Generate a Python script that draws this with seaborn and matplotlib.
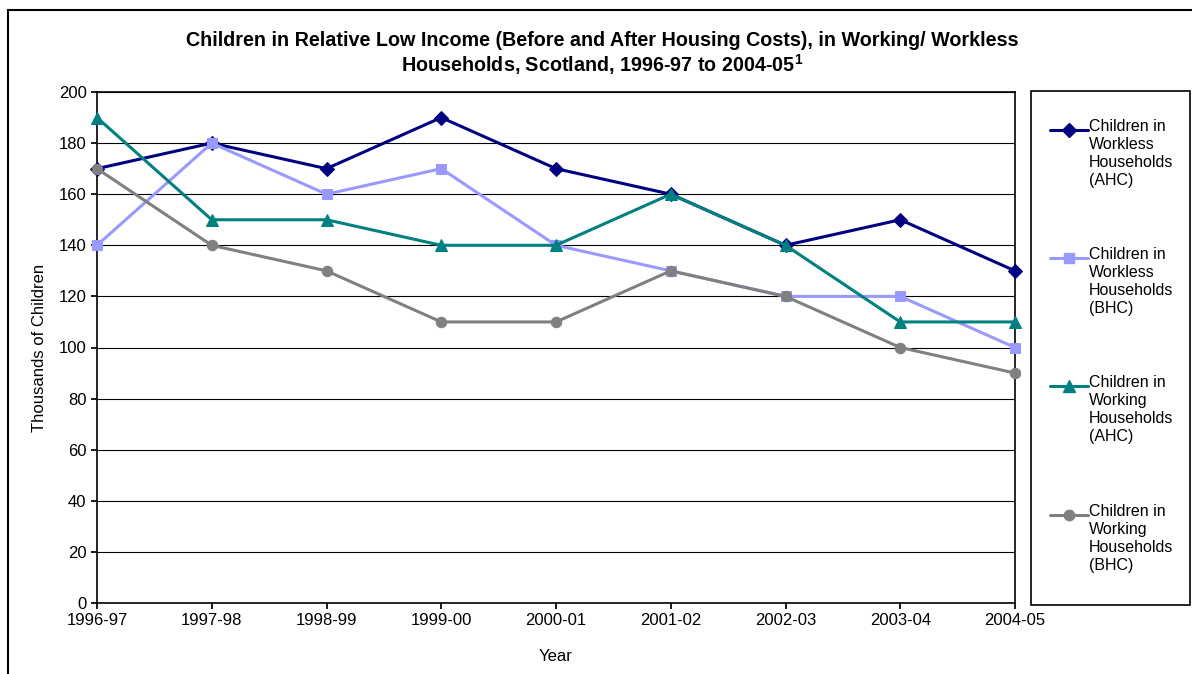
import pandas as pd
import matplotlib.pyplot as plt
import seaborn as sns
from matplotlib.lines import Line2D
from matplotlib.patches import Rectangle

years = ["1996-97", "1997-98", "1998-99", "1999-00", "2000-01",
         "2001-02", "2002-03", "2003-04", "2004-05"]
workless_ahc = [170, 180, 170, 190, 170, 160, 140, 150, 130]
workless_bhc = [140, 180, 160, 170, 140, 130, 120, 120, 100]
working_ahc = [190, 150, 150, 140, 140, 160, 140, 110, 110]
working_bhc = [170, 140, 130, 110, 110, 130, 120, 100, 90]

series_names = [
    "Children in\nWorkless\nHouseholds\n(AHC)",
    "Children in\nWorkless\nHouseholds\n(BHC)",
    "Children in\nWorking\nHouseholds\n(AHC)",
    "Children in\nWorking\nHouseholds\n(BHC)",
]
colors = ["#000080", "#9999FF", "#008080", "#808080"]
markers = ["D", "s", "^", "o"]
msizes = [7, 7.5, 8.5, 7.5]

# tabela longa para o seaborn
rows = []
for name, vals in zip(series_names, [workless_ahc, workless_bhc, working_ahc, working_bhc]):
    for i, v in enumerate(vals):
        rows.append({"pos": i, "Year": years[i], "Value": v, "Series": name})
df = pd.DataFrame(rows)

sns.set_theme(style="white")
plt.rcParams["font.family"] = ["Liberation Sans", "DejaVu Sans"]
plt.rcParams["mathtext.fontset"] = "custom"
plt.rcParams["mathtext.rm"] = "Liberation Sans"
plt.rcParams["mathtext.bf"] = "Liberation Sans:bold"
for k in ["text.color", "axes.labelcolor", "xtick.color", "ytick.color"]:
    plt.rcParams[k] = "black"

fig = plt.figure(figsize=(11.92, 6.74), dpi=100)
ax = fig.add_axes([97 / 1192, 1 - 603 / 674, (1015 - 97) / 1192, (603 - 92) / 674])

for name, col, mk, ms in zip(series_names, colors, markers, msizes):
    sub = df[df["Series"] == name]
    sns.lineplot(data=sub, x="pos", y="Value", color=col, marker=mk,
                 markersize=ms, markeredgecolor=col, linewidth=2.2, ax=ax,
                 legend=False, clip_on=False, zorder=3)

ax.set_xlim(0, 8)
ax.set_ylim(0, 200)
ax.set_xticks(range(len(years)))
ax.set_xticklabels(years, fontsize=12)
ax.set_yticks(range(0, 201, 20))
ax.tick_params(axis="y", labelsize=12, length=4, color="black", direction="out", left=True)
ax.tick_params(axis="x", length=4, color="black", direction="out", bottom=True)
ax.yaxis.grid(True, color="black", linewidth=0.8)
ax.set_axisbelow(True)
for s in ax.spines.values():
    s.set_color("black")
    s.set_linewidth(1.2)
ax.set_xlabel("Year", fontsize=12)
ax.set_ylabel("Thousands of Children", fontsize=12)
ax.xaxis.set_label_coords(0.5, -0.09)
ax.yaxis.set_label_coords(-0.055, 0.5)

# titulo
fig.text(602 / 1192, 1 - 41 / 674,
         "Children in Relative Low Income (Before and After Housing Costs), in Working/ Workless",
         ha="center", va="center", fontsize=14.2, fontweight="bold")
fig.text(602 / 1192, 1 - 65 / 674,
         r"Households, Scotland, 1996-97 to 2004-05$^{\mathbf{1}}$",
         ha="center", va="center", fontsize=14.2, fontweight="bold")

# moldura externa
fig.add_artist(Rectangle((8 / 1192, -0.1), 1.2, (674 - 10) / 674 + 0.1,
                         transform=fig.transFigure, fill=False, edgecolor="black", linewidth=1.5))

# legenda manual
fig.add_artist(Rectangle((1031 / 1192, 1 - 605 / 674), (1190 - 1031) / 1192, (605 - 91) / 674,
                         transform=fig.transFigure, fill=False, edgecolor="black", linewidth=1.2))
entry_y = [130, 258, 386, 515]
for name, col, mk, ms, yy in zip(series_names, colors, markers, msizes, entry_y):
    yf = 1 - yy / 674
    fig.add_artist(Line2D([1050 / 1192, 1088 / 1192], [yf, yf], transform=fig.transFigure,
                          color=col, linewidth=2.2, marker=None))
    fig.add_artist(Line2D([1069 / 1192], [yf], transform=fig.transFigure,
                          color=col, marker=mk, markersize=ms, markeredgecolor=col))
    fig.text(1089 / 1192, 1 - (yy - 11) / 674, name, ha="left", va="top",
             fontsize=11.5, linespacing=1.25)

plt.savefig("out.png", dpi=100)
